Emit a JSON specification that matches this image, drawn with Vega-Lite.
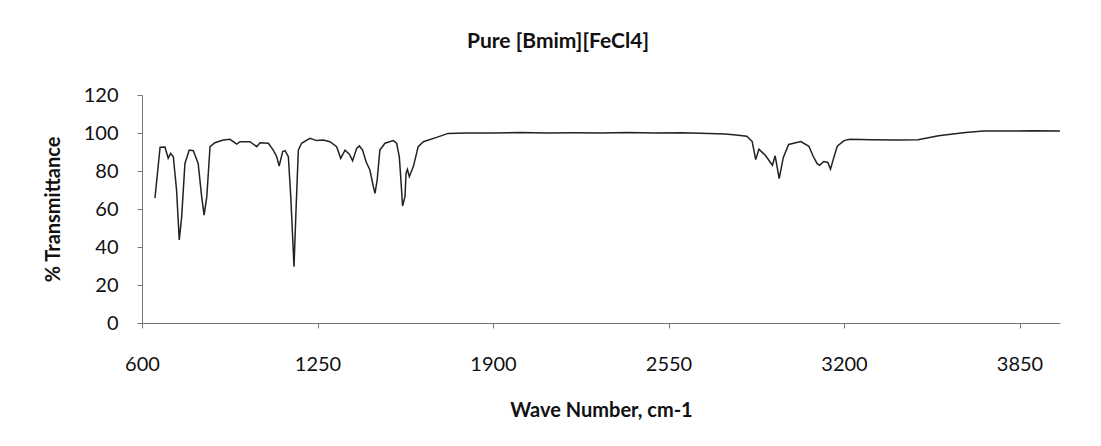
{
  "$schema": "https://vega.github.io/schema/vega-lite/v6.json",
  "autosize": {"type": "none"},
  "padding": {"left": 142, "top": 95, "right": 41, "bottom": 123},
  "width": 918,
  "height": 228,
  "background": "white",
  "config": {"view": {"stroke": null}, "font": "Lato"},
  "title": {"text": "Pure [Bmim][FeCl4]", "font": "Lato", "fontSize": 21, "fontWeight": "bold", "color": "#111", "anchor": "middle", "dx": -43, "offset": 33},
  "data": {"values": [
    {"x": 648, "t": 65.8}, {"x": 667, "t": 92.5}, {"x": 685, "t": 92.6}, {"x": 697, "t": 86.7}, {"x": 706, "t": 89.3},
    {"x": 716, "t": 87.5}, {"x": 728, "t": 70}, {"x": 738, "t": 43.7}, {"x": 747, "t": 56}, {"x": 759, "t": 84},
    {"x": 775, "t": 91}, {"x": 790, "t": 90.7}, {"x": 808, "t": 84}, {"x": 821, "t": 66.5}, {"x": 830, "t": 56.8},
    {"x": 840, "t": 66.5}, {"x": 852, "t": 92.8}, {"x": 870, "t": 94.9}, {"x": 901, "t": 96.3}, {"x": 926, "t": 96.7},
    {"x": 951, "t": 94.2}, {"x": 963, "t": 95.4}, {"x": 1000, "t": 95.4}, {"x": 1025, "t": 92.8}, {"x": 1037, "t": 94.9},
    {"x": 1068, "t": 94.6}, {"x": 1086, "t": 91}, {"x": 1099, "t": 87.5}, {"x": 1108, "t": 82.6}, {"x": 1121, "t": 90.2},
    {"x": 1130, "t": 90.7}, {"x": 1142, "t": 87.5}, {"x": 1151, "t": 66.5}, {"x": 1163, "t": 29.6}, {"x": 1170, "t": 57.7},
    {"x": 1179, "t": 91}, {"x": 1191, "t": 94.6}, {"x": 1222, "t": 97.2}, {"x": 1247, "t": 96}, {"x": 1271, "t": 96.3},
    {"x": 1296, "t": 95.4}, {"x": 1321, "t": 92.8}, {"x": 1336, "t": 86.7}, {"x": 1352, "t": 91}, {"x": 1368, "t": 88.9},
    {"x": 1380, "t": 85.4}, {"x": 1395, "t": 91.9}, {"x": 1405, "t": 93.2}, {"x": 1417, "t": 91}, {"x": 1430, "t": 84.9},
    {"x": 1444, "t": 80.5}, {"x": 1457, "t": 71.7}, {"x": 1463, "t": 68.2}, {"x": 1471, "t": 75.3}, {"x": 1481, "t": 91},
    {"x": 1500, "t": 94.6}, {"x": 1531, "t": 96}, {"x": 1543, "t": 94.6}, {"x": 1553, "t": 87.5}, {"x": 1559, "t": 75.3},
    {"x": 1565, "t": 61.6}, {"x": 1574, "t": 66.5}, {"x": 1578, "t": 78.8}, {"x": 1583, "t": 80.9}, {"x": 1590, "t": 77},
    {"x": 1605, "t": 82.3}, {"x": 1623, "t": 92.8}, {"x": 1642, "t": 95.4}, {"x": 1691, "t": 97.7}, {"x": 1734, "t": 99.8},
    {"x": 1800, "t": 100}, {"x": 1900, "t": 100}, {"x": 2000, "t": 100.2}, {"x": 2100, "t": 100}, {"x": 2200, "t": 100.1},
    {"x": 2300, "t": 100}, {"x": 2400, "t": 100.2}, {"x": 2500, "t": 100}, {"x": 2600, "t": 100.1}, {"x": 2700, "t": 99.8},
    {"x": 2760, "t": 99.5}, {"x": 2800, "t": 99}, {"x": 2840, "t": 98.3}, {"x": 2860, "t": 95.5}, {"x": 2873, "t": 86},
    {"x": 2885, "t": 91.5}, {"x": 2910, "t": 88}, {"x": 2925, "t": 85}, {"x": 2935, "t": 83}, {"x": 2945, "t": 88},
    {"x": 2960, "t": 76}, {"x": 2975, "t": 87}, {"x": 2995, "t": 94}, {"x": 3040, "t": 95.5}, {"x": 3070, "t": 93},
    {"x": 3085, "t": 88}, {"x": 3100, "t": 84}, {"x": 3110, "t": 83}, {"x": 3125, "t": 85}, {"x": 3140, "t": 84.5},
    {"x": 3150, "t": 81}, {"x": 3160, "t": 86}, {"x": 3175, "t": 93}, {"x": 3200, "t": 96}, {"x": 3222, "t": 96.7},
    {"x": 3300, "t": 96.5}, {"x": 3400, "t": 96.3}, {"x": 3474, "t": 96.5}, {"x": 3550, "t": 98.5}, {"x": 3650, "t": 100.2},
    {"x": 3715, "t": 101}, {"x": 3800, "t": 101}, {"x": 3900, "t": 101.2}, {"x": 4000, "t": 101}
  ]},
  "mark": {"type": "line", "color": "#222", "strokeWidth": 1.5, "interpolate": "linear"},
  "encoding": {
    "x": {
      "field": "x", "type": "quantitative",
      "scale": {"domain": [600, 4000], "nice": false, "zero": false},
      "axis": {
        "title": "Wave Number, cm-1", "values": [600, 1250, 1900, 2550, 3200, 3850], "format": "d",
        "labelFlush": false, "labelOverlap": false,
        "grid": false, "domainColor": "#777", "tickColor": "#777", "tickSize": 5,
        "labelFont": "Lato", "labelFontSize": 20, "labelColor": "#111", "labelPadding": 26,
        "titleFont": "Lato", "titleFontSize": 20, "titleFontWeight": "bold", "titleColor": "#111", "titlePadding": 26
      }
    },
    "y": {
      "field": "t", "type": "quantitative",
      "scale": {"domain": [0, 120], "nice": false},
      "axis": {
        "title": "% Transmittance", "values": [0, 20, 40, 60, 80, 100, 120], "format": "d",
        "labelFlush": false, "labelOverlap": false,
        "grid": false, "domainColor": "#777", "tickColor": "#777", "tickSize": 5,
        "labelFont": "Lato", "labelFontSize": 20, "labelColor": "#111", "labelPadding": 19,
        "titleFont": "Lato", "titleFontSize": 20, "titleFontWeight": "bold", "titleColor": "#111", "titlePadding": 20
      }
    }
  }
}
